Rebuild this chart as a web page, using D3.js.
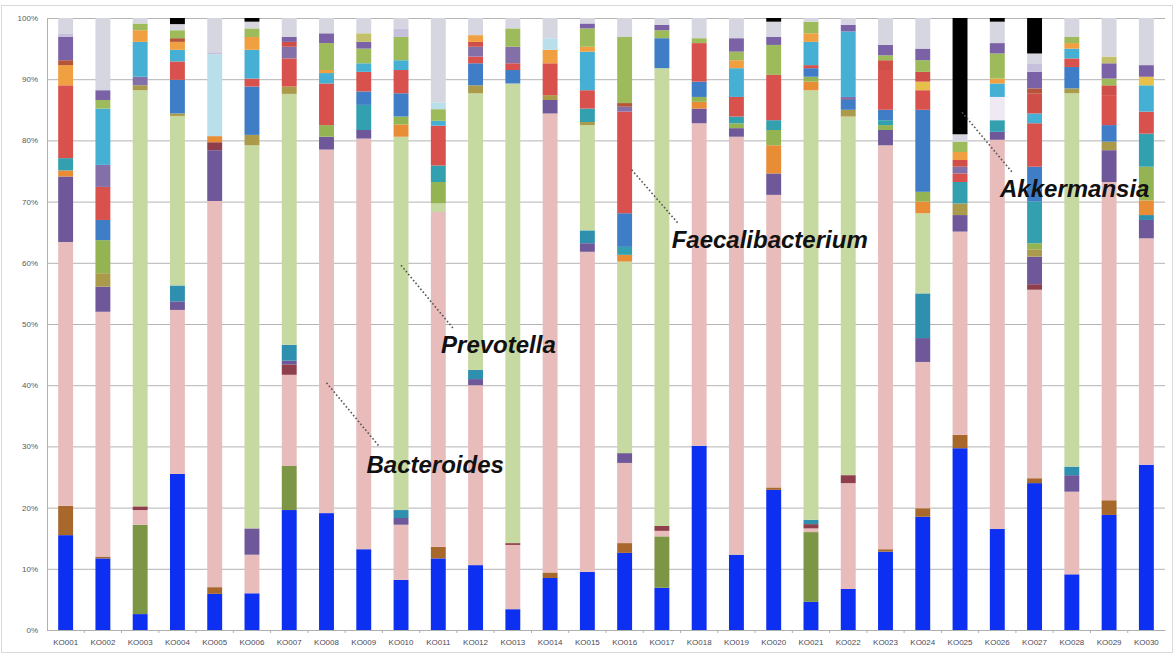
<!DOCTYPE html>
<html><head><meta charset="utf-8">
<script src="https://cdn.jsdelivr.net/npm/d3@7"></script>
<style>html,body{margin:0;padding:0;background:#fff;} svg{display:block;}</style>
</head><body><svg id="chart" width="1175" height="655"></svg>
<script>
// ---------- data ----------
const samples = ["KO001","KO002","KO003","KO004","KO005","KO006","KO007","KO008","KO009","KO010",
  "KO011","KO012","KO013","KO014","KO015","KO016","KO017","KO018","KO019","KO020",
  "KO021","KO022","KO023","KO024","KO025","KO026","KO027","KO028","KO029","KO030"];
const yTickValues = [0,0.1,0.2,0.3,0.4,0.5,0.6,0.7,0.8,0.9,1];
const yTickLabels = ["0%","10%","20%","30%","40%","50%","60%","70%","80%","90%","100%"];

// relative abundance (%) per taxon, bottom of stack first
const taxonBlue      = [15.5,11.7,2.6,25.5,5.9,6.0,19.6,19.1,13.2,8.2,11.7,10.6,3.4,8.5,9.5,12.6,6.9,30.1,12.3,22.9,4.6,6.7,12.8,18.5,29.7,16.5,24.0,9.1,18.8,27.0];
const taxonBrown     = [4.8,0.3,0,0,1.1,0,0,0,0,0,1.9,0,0,0.9,0,1.6,0,0,0,0.4,0,0,0.4,1.4,2.2,0,0.8,0,2.4,0];
const taxonOlive     = [0,0,14.6,0,0,0,7.2,0,0,0,0,0,0,0,0,0,8.4,0,0,0,11.4,0,0,0,0,0,0,0,0,0];
const bacteroides    = [43.1,40.0,2.4,26.8,63.1,6.3,14.9,59.4,67.1,9.0,54.7,29.4,10.5,75.0,52.3,13.1,0.9,52.7,68.3,47.8,0.6,17.3,66.0,23.9,33.2,63.6,30.8,13.5,52.0,37.0];
const taxonMaroon    = [0,0,0.6,0,0,0,1.7,0,0,0,0,0,0.3,0,0,0,0.8,0,0,0,0.7,1.3,0,0,0,0,0.9,0,0,0];
const taxonPurple    = [10.7,4.1,0,1.4,8.3,4.3,0.6,2.1,1.4,1.1,0,1.0,0,2.2,1.4,1.6,0,2.4,1.4,3.5,0,0,2.5,3.9,2.7,1.3,4.5,2.7,5.2,3.0];
const taxonTeal      = [0,0,0,2.6,0,0,2.6,0,0,1.3,0,1.5,0,0,2.1,0,0,0,0,0,0.7,0,0,7.3,0,0,0,1.4,0,0.8];
const prevotella     = [0,0,68.0,27.7,0,62.6,41.0,0,0,61.0,1.4,45.2,75.1,0,17.2,31.3,74.8,0,0,0,70.2,58.6,0,13.1,0,0,0,61.0,0,0];
const taxonMaroon2   = [0,0,0,0,1.3,0,0,0,0,0,0,0,0,0,0,0,0,0,0,0,0,0,0,0,0,0,0,0,0,0];
const taxonTan       = [0,2.2,0.8,0.4,0,1.7,1.2,0,0,0,0,1.3,0,0.8,0.5,0,0,0,0,0,0,1.1,0,0,1.9,0,1.2,0.8,1.4,0];
const taxonOrange    = [1.0,0,0,0,1.0,0,0,0,0,2.0,0,0,0,0,0,1.1,0,1.1,0,4.6,1.4,0,0,1.9,0,0,0,0,0,2.4];
const taxonGreen     = [0,5.4,0,0,0,0,0,1.9,0,1.3,3.5,0,0,0,0,0,0,0.8,0.8,2.5,0.8,0,0.8,1.6,0,0,1.0,0,0,5.5];
const taxonTeal2     = [2.0,0,0,0,0,0,0,0,4.1,0,2.7,0,0,0,2.2,1.3,0,0,1.1,1.6,0,0,0.8,0,3.5,1.9,6.8,0,0,5.4];
const taxonMidBlue   = [0,3.3,0,5.5,0,7.9,0,0,2.2,3.8,0,3.6,2.2,0,0,5.5,4.9,2.5,0,0,1.4,1.6,1.7,13.4,0,0,5.7,3.5,2.7,0];
const faecalibacterium = [11.9,5.4,0,3.0,0,1.3,4.6,6.8,3.2,3.8,6.5,1.1,1.1,5.2,3.0,16.6,0,6.3,3.2,7.4,0.5,0,6.5,3.2,1.4,0,7.1,1.4,4.9,3.6];
const taxonPurpleGray = [0,3.6,1.4,0,0,0,1.9,0,0,0,0,1.6,2.7,0,0,0.8,0,0,0,0,0,0.5,0,0,1.1,0,0,0,0,0];
const taxonPale      = [0,0,0,0,0,0,0,0,0,0,0,0,0,0,0,0,0,0,0,0,0,0,0,0,0,3.8,0,0,0,0];
const taxonCyan      = [0,9.2,5.7,1.9,0,4.7,0,1.7,1.4,1.6,0.8,0,0,0,6.3,0,0,0,4.7,0,3.8,10.7,0,0,0,2.2,1.6,1.6,0,4.3];
const taxonYellow    = [0,0,0,0,0,0,0,0,0,0,0,0,0,0,0,0,0,0,0,0,0,0,0,1.4,0,0,0,0,0,1.4];
const taxonRed2      = [0,0,0,0,0,0,0.8,0,0,0,0,0.8,0,0,0,0,0,0,0,0,0,0,1.6,1.6,1.1,0,3.3,0,1.6,0];
const taxonOrange2   = [3.3,0,1.9,1.3,0,2.1,0,0.5,0,0,0,1.1,0,2.2,0.8,0,0,0,1.3,0,1.4,0,0,0,1.3,0.8,0,0.9,0,0];
const taxonBrick     = [0.8,0,0,0.6,0,0,0,0,0,0,0,0,0,0,0,0.6,0,0,0,0,0,0,0,0,0,0,0.8,0,0,0];
const taxonGreen2    = [0,1.4,1.1,1.3,0,1.4,0,4.4,2.4,3.8,1.9,0,3.0,0,3.0,10.8,1.3,0.8,1.4,4.9,1.9,0,0.8,1.9,1.7,4.1,0,1.0,1.1,0];
const taxonPurple2   = [3.8,1.6,0,0,0,0,0.8,1.6,1.1,0,0,0,0,0,0.8,0,0.9,0,2.2,1.3,0,1.1,1.7,1.9,0,1.7,2.7,0,2.5,1.9];
const taxonKhaki     = [0,0,0,0,0,0,0,0,1.4,0,0,0,0,0,0,0,0,0,0,0,0,0,0,0,0,0,0,0,1.1,0];
const taxonLightBlue = [0,0,0,0,13.4,0,0,0,0,0,1.1,0,0,1.9,0,0,0,0,0,0,0,0,0,0,0,0,0,0,0,0];
const taxonLavender  = [0.6,0,0,0,0.3,0,0,0,0,1.4,0,0,0,0,0,0,0,0,0,0,0,0,0,0,0,0,1.4,0,0,0];
const others         = [2.5,11.8,0.9,1.0,5.6,1.1,3.1,2.5,2.5,1.7,13.8,2.8,1.7,3.3,0.9,3.1,1.1,3.3,3.3,2.5,0.6,1.1,4.4,5.0,1.2,3.5,1.6,3.1,6.3,7.7];
const akkermansia    = [0,0,0,1.0,0,0.6,0,0,0,0,0,0,0,0,0,0,0,0,0,0.6,0,0,0,0,19.0,0.6,5.8,0,0,0];

const seriesKeys = ["taxonBlue","taxonBrown","taxonOlive","Bacteroides","taxonMaroon","taxonPurple","taxonTeal","Prevotella",
  "taxonMaroon2","taxonTan","taxonOrange","taxonGreen","taxonTeal2","taxonMidBlue","Faecalibacterium","taxonPurpleGray",
  "taxonPale","taxonCyan","taxonYellow","taxonRed2","taxonOrange2","taxonBrick","taxonGreen2","taxonPurple2","taxonKhaki",
  "taxonLightBlue","taxonLavender","Others","Akkermansia"];
const seriesValues = [taxonBlue,taxonBrown,taxonOlive,bacteroides,taxonMaroon,taxonPurple,taxonTeal,prevotella,
  taxonMaroon2,taxonTan,taxonOrange,taxonGreen,taxonTeal2,taxonMidBlue,faecalibacterium,taxonPurpleGray,
  taxonPale,taxonCyan,taxonYellow,taxonRed2,taxonOrange2,taxonBrick,taxonGreen2,taxonPurple2,taxonKhaki,
  taxonLightBlue,taxonLavender,others,akkermansia];
const seriesColors = ["#0d2ff2","#a8682c","#7d9645","#e8bcbb","#8f3f4c","#6e5899","#2f8fae","#c6d9a0",
  "#8f3f4c","#aa9a4a","#e98c36","#94b454","#33a0b0","#3f7ec6","#d9514c","#8470a8",
  "#eee9f3","#46b0d4","#e6c04a","#cf4f48","#f0a040","#b4553a","#9dbb5a","#7b62a6","#c3c06a",
  "#b9dfea","#c7c0dc","#d6d6e0","#000000"];

const annotations = [
  {label:"Bacteroides",      sample:"KO008", value:0.404, dx1:0,  lineDx:53, lineDy:64, textDx:40, textDy:90},
  {label:"Prevotella",       sample:"KO010", value:0.596, dx1:0,  lineDx:52, lineDy:63, textDx:40, textDy:88},
  {label:"Faecalibacterium", sample:"KO016", value:0.752, dx1:7,  lineDx:46, lineDy:53, textDx:40, textDy:78},
  {label:"Akkermansia",      sample:"KO025", value:0.846, dx1:2,  lineDx:51, lineDy:61, textDx:38, textDy:85}
];

// ---------- layout ----------
const W = 1175, H = 655;
const plotLeft = 47, plotRight = 1165, plotTop = 18, plotBottom = 630;
const svg = d3.select("#chart");

svg.append("rect").attr("x",1.5).attr("y",5.5).attr("width",1171).attr("height",647)
  .attr("fill","#fff").attr("stroke","#d9d9d9").attr("stroke-width",1);

const x = d3.scaleBand().domain(samples).range([plotLeft, plotRight]).paddingInner(0.6).paddingOuter(0.3);
const y = d3.scaleLinear().domain([0,1]).range([plotBottom, plotTop]);

// gridlines + y labels
const yAxis = d3.axisLeft(y).tickValues(yTickValues)
  .tickFormat((d,i)=>yTickLabels[i]).tickSize(-(plotRight-plotLeft)).tickPadding(9);
const gy = svg.append("g").attr("transform",`translate(${plotLeft},0)`).call(yAxis);
gy.select(".domain").attr("stroke","#b0b0b0");
gy.selectAll(".tick line").attr("stroke","#b4b4b4").attr("stroke-width",1);
gy.selectAll(".tick text").attr("fill","#5a5a5a").style("font-family","Liberation Sans, Arial, sans-serif").style("font-size","8px");

// stacked bars
const rows = samples.map((s,i)=>{
  const r = {sample:s};
  seriesKeys.forEach((k,j)=>{ r[k] = seriesValues[j][i]; });
  return r;
});
const stacked = d3.stack().keys(seriesKeys).offset(d3.stackOffsetExpand)(rows);
const color = d3.scaleOrdinal().domain(seriesKeys).range(seriesColors);

svg.append("g").selectAll("g").data(stacked).join("g")
  .attr("fill", d=>color(d.key))
  .selectAll("rect").data(d=>d.filter(p=>p[1]-p[0]>0)).join("rect")
  .attr("x", d=>x(d.data.sample))
  .attr("width", x.bandwidth())
  .attr("y", d=>y(d[1]))
  .attr("height", d=>y(d[0])-y(d[1]));

// x axis
const xAxis = d3.axisBottom(x).tickSize(0).tickPadding(9);
const gx = svg.append("g").attr("transform",`translate(0,${plotBottom})`).call(xAxis);
gx.select(".domain").attr("stroke","#b0b0b0");
gx.selectAll(".tick text").attr("fill","#4a4a5a").style("font-family","Liberation Sans, Arial, sans-serif").style("font-size","8px");
// small category separators
svg.append("g").selectAll("line").data(samples.slice(1)).join("line")
  .attr("x1", d=>x(d)-x.step()*0.3).attr("x2", d=>x(d)-x.step()*0.3)
  .attr("y1", plotBottom).attr("y2", plotBottom+3)
  .attr("stroke","#b0b0b0");

// annotations
const ann = svg.append("g");
annotations.forEach(a=>{
  const x0 = x(a.sample) + x.bandwidth()/2 + a.dx1;
  const y0 = y(a.value);
  ann.append("line").attr("x1",x0).attr("y1",y0).attr("x2",x0+a.lineDx).attr("y2",y0+a.lineDy)
    .attr("stroke","#555").attr("stroke-width",1.6).attr("stroke-dasharray","1.6,2.2");
  ann.append("text").attr("x",x0+a.textDx).attr("y",y0+a.textDy)
    .text(a.label)
    .style("font-family","Liberation Sans, Arial, sans-serif")
    .style("font-weight","bold").style("font-style","italic").style("font-size","24px")
    .attr("fill","#111");
});
</script></body></html>
